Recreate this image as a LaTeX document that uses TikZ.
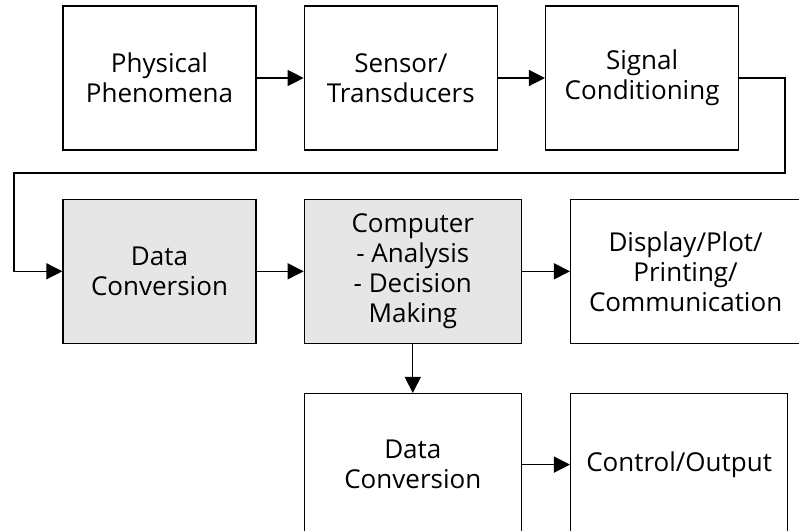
\documentclass[tikz,border=0pt]{standalone}
\usepackage{fontspec}
\setmainfont{Open Sans}
\usepackage{tikz}
\usetikzlibrary{shapes,arrows.meta,positioning}
\definecolor{boxgray}{RGB}{230, 230, 230}
\tikzstyle{block} = [rectangle, draw=black, line width=1.3pt, fill=white, text=black, align=center, font=\fontsize{26}{30}\selectfont, minimum width=193pt, minimum height=144pt, inner sep=0pt]
\tikzstyle{grayblock} = [block, fill=boxgray]
\tikzstyle{tedge}  = [draw, line width=1.3pt, >={Triangle[length=16pt,width=16pt]}, ->]

\begin{document}
\begin{tikzpicture}[x=1pt, y=-1pt]

\useasboundingbox (0,0) rectangle (799,530);

% blocks =============================

% nodes
\node[block] (phys) at (159.5,78) {Physical\\Phenomena};
\node[block, right=47pt of phys] (sensor) {Sensor/\\Transducers};
\node[block, right=47pt of sensor] (signal) {Signal\\Conditioning};
\node[grayblock, below=48pt of phys] (dconvA) {Data\\Conversion};
\node[grayblock, right=47pt of dconvA, minimum width=217pt] (comp) {Computer\\- Analysis\\- Decision\\Making};
\node[block, right=48pt of comp, minimum width=230pt] (disp) {Display/Plot/\\Printing/\\Communication};
\node[block, below=49pt of comp, minimum width=217pt, minimum height=142pt] (dconvB) {Data\\Conversion};
\node[block, right=48pt of dconvB, minimum width=217pt, minimum height=142pt] (ctrl) {Control/Output};

% return path
\coordinate (r1) at (785,173);
\coordinate (r2) at (14,173);

% edges
\path[tedge] (phys) -- (sensor);
\path[tedge] (sensor) -- (signal);
\path[tedge] (signal.east) -| (r1) -- (r2) |- (dconvA.west);
\path[tedge] (dconvA) -- (comp);
\path[tedge] (comp) -- (disp);
\path[tedge] (comp) -- (dconvB);
\path[tedge] (dconvB) -- (ctrl);

\end{tikzpicture}
\end{document}
